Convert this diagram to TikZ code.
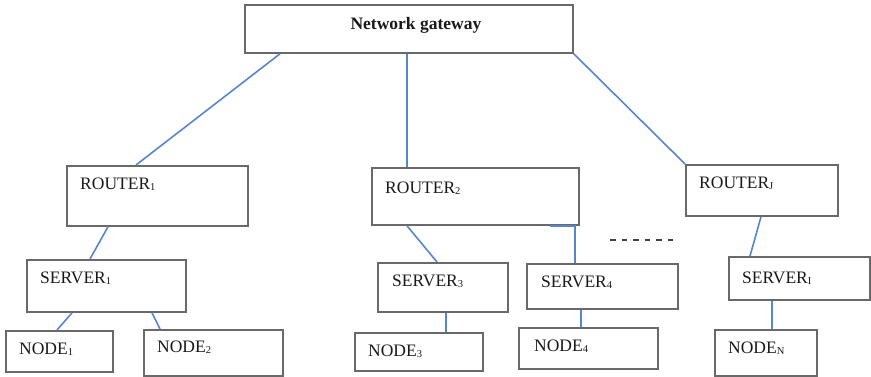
\documentclass[tikz,border=0pt]{standalone}
\usepackage{fontspec}
\setmainfont{Liberation Serif}

\definecolor{boxgray}{RGB}{105,105,105}
\definecolor{linkblue}{RGB}{88,134,204}

% small index digit sitting on the baseline
\newcommand{\idx}[1]{\raisebox{-0.5pt}{\fontsize{10.5}{11}\selectfont #1}}

\tikzset{
  box/.style={draw=boxgray, line width=1.8pt, anchor=north west, inner sep=0pt},
  tag/.style={anchor=north west, inner sep=0pt, xshift=14pt, yshift=-13pt,
    text=black!90, font=\fontsize{17.5}{20}\selectfont},
  link/.style={draw=linkblue, line width=1.6pt},
}

\begin{document}
\begin{tikzpicture}[x=1pt,y=-1pt]
  \useasboundingbox (0,0) rectangle (871,377);

  % gateway
  \node[box, minimum width=328pt, minimum height=48pt,
    label={[tag, anchor=north, xshift=-7pt]north:\textbf{Network gateway}}] (gw) at (244,4) {};

  % routers
  \node[box, minimum width=181pt, minimum height=60pt,
    label={[tag]north west:ROUTER\idx{1}}] (r1) at (66,165) {};
  \node[box, minimum width=207pt, minimum height=57pt,
    label={[tag, yshift=-2pt]north west:ROUTER\idx{2}}] (r2) at (371,167) {};
  \node[box, minimum width=152pt, minimum height=51pt,
    label={[tag]north west:ROUTER\idx{J}}] (rj) at (685,164) {};

  % servers
  \node[box, minimum width=159pt, minimum height=52pt,
    label={[tag]north west:SERVER\idx{1}}] (s1) at (26,259) {};
  \node[box, minimum width=130pt, minimum height=49pt,
    label={[tag, xshift=1pt]north west:SERVER\idx{3}}] (s3) at (377,262) {};
  \node[box, minimum width=151pt, minimum height=45pt,
    label={[tag, xshift=1pt]north west:SERVER\idx{4}}] (s4) at (526,263) {};
  \node[box, minimum width=141pt, minimum height=43pt,
    label={[tag, yshift=-3pt]north west:SERVER\idx{I}}] (si) at (728,256) {};

  % end nodes
  \node[box, minimum width=107pt, minimum height=41pt,
    label={[tag]north west:NODE\idx{1}}] (n1) at (5,330) {};
  \node[box, minimum width=139pt, minimum height=46pt,
    label={[tag, yshift=1pt]north west:NODE\idx{2}}] (n2) at (143,329) {};
  \node[box, minimum width=128pt, minimum height=38pt,
    label={[tag]north west:NODE\idx{3}}] (n3) at (354,332) {};
  \node[box, minimum width=139pt, minimum height=41pt,
    label={[tag, xshift=2pt]north west:NODE\idx{4}}] (n4) at (518,327) {};
  \node[box, minimum width=102pt, minimum height=46pt,
    label={[tag]north west:NODE\idx{N}}] (nn) at (714,329) {};

  % links
  \draw[link] ([xshift=36pt]gw.south west) -- ([xshift=70pt]r1.north west);
  \draw[link] ([xshift=163pt]gw.south west) -- ([xshift=36pt]r2.north west);
  \draw[link] (gw.south east) -- (rj.north west);

  \draw[link] ([xshift=42pt]r1.south west) -- ([xshift=64pt]s1.north west);
  \draw[link] ([xshift=36pt]r2.south west) -- ([xshift=60pt]s3.north west);
  \draw[link] ([xshift=-30pt]r2.south east) -| ([xshift=49pt]s4.north west);
  \draw[link] ([xshift=76pt]rj.south west) -- ([xshift=22pt]si.north west);

  \draw[link] ([xshift=46pt]s1.south west) -- ([xshift=52pt]n1.north west);
  \draw[link] ([xshift=126pt]s1.south west) -- ([xshift=17pt]n2.north west);
  \draw[link] ([xshift=69pt]s3.south west) -- ([xshift=92pt]n3.north west);
  \draw[link] ([xshift=55pt]s4.south west) -- ([xshift=63pt]n4.north west);
  \draw[link] ([xshift=44pt]si.south west) -- ([xshift=58pt]nn.north west);

  % more routers left out
  \draw[black!75, line width=1.4pt, dash pattern=on 5.5pt off 6pt] (610,240) -- (676,240);
\end{tikzpicture}
\end{document}
